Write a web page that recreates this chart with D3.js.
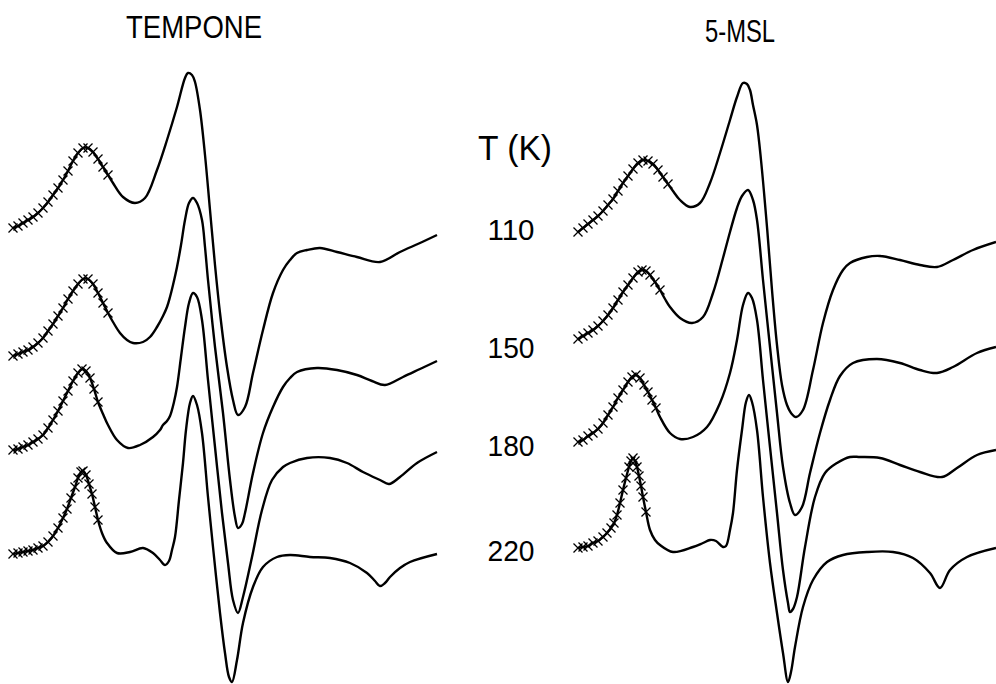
<!DOCTYPE html>
<html>
<head>
<meta charset="utf-8">
<script src="https://cdn.jsdelivr.net/npm/d3@7"></script>
<style>
  html, body { margin: 0; padding: 0; background: #fff; }
  svg { display: block; font-family: "Liberation Sans", Arial, sans-serif; }
</style>
</head>
<body>
<script>
// EPR spectra, [field, signal] pairs (arbitrary units).
// Low-field points up to fitEnd carry the simulation markers (x).
const temps = ['110', '150', '180', '220'];

const tempone110 = [[0,0],[5,2],[10,5],[15,8],[20,11],[25,15],[30,20],[35,26],[40,33],[45,40],[50,48],[55,57],[60,67],[65,75],[70,80],[75,80],[80,76],[85,69],[90,61],[95,53],[100,45],[110,31],[122,25],[132,30],[144,58],[154,88],[164,121],[172,150],[175,155],[179,153],[182,146],[187,118],[192,73],[197,18],[202,-37],[207,-85],[214,-139],[220,-172],[225,-187],[232,-179],[240,-145],[250,-102],[260,-65],[270,-42],[277,-32],[284,-25],[294,-22],[307,-20],[324,-24],[344,-29],[367,-34],[387,-24],[407,-15],[424,-7]];
const tempone150 = [[0,0],[5,2],[10,4],[15,6],[20,9],[25,13],[30,18],[35,25],[40,32],[45,40],[50,48],[55,57],[60,65],[65,72],[70,77],[75,77],[80,72],[85,63],[90,53],[95,43],[100,34],[107,23],[114,16],[120,13],[130,14],[137,19],[144,29],[150,40],[154,49],[157,59],[160,71],[164,89],[168,111],[172,136],[176,153],[180,158],[184,153],[189,136],[192,109],[195,76],[202,9],[210,-57],[217,-124],[222,-161],[225,-172],[229,-168],[232,-157],[240,-117],[250,-77],[260,-51],[270,-31],[277,-22],[284,-16],[304,-12],[324,-14],[344,-19],[359,-25],[372,-29],[390,-21],[407,-13],[424,-5]];
const tempone180 = [[0,0],[5,1],[10,3],[15,5],[20,8],[25,11],[30,15],[35,22],[40,30],[45,39],[50,49],[55,59],[60,69],[65,77],[69,81],[73,79],[77,72],[81,61],[85,48],[90,36],[95,25],[104,10],[115,2],[127,5],[140,13],[147,20],[150,25],[154,29],[157,34],[161,48],[164,63],[168,93],[172,123],[176,147],[180,157],[184,153],[189,130],[195,70],[202,3],[209,-63],[215,-113],[220,-150],[225,-163],[230,-147],[239,-107],[249,-60],[259,-30],[270,-17],[277,-13],[294,-8],[317,-8],[334,-13],[350,-22],[367,-30],[376,-34],[387,-27],[404,-13],[424,-2]];
const tempone220 = [[0,0],[5,1],[10,2],[15,3],[20,4],[25,6],[30,8],[35,12],[40,18],[45,26],[50,36],[54,45],[58,56],[62,67],[65,76],[68,82],[70,83],[73,79],[76,70],[79,60],[82,47],[85,34],[89,21],[94,11],[104,1],[117,2],[130,6],[140,1],[147,-6],[152,-11],[156,-7],[159,4],[162,17],[166,54],[170,91],[173,124],[177,151],[180,158],[184,149],[189,121],[195,57],[200,7],[207,-59],[212,-99],[216,-123],[219,-128],[224,-106],[230,-69],[240,-33],[250,-13],[264,-3],[277,-1],[297,-3],[317,-4],[337,-9],[354,-19],[362,-27],[367,-32],[372,-29],[377,-23],[387,-14],[397,-8],[424,0]];

const msl110 = [[0,0],[5,4],[10,8],[15,12],[20,16],[25,21],[30,27],[35,33],[40,41],[45,49],[50,56],[55,63],[60,69],[65,72],[70,71],[75,68],[80,62],[85,55],[90,48],[95,41],[102,32],[112,25],[122,29],[132,49],[142,79],[152,112],[159,135],[165,149],[169,148],[172,142],[175,127],[179,107],[183,72],[189,5],[194,-58],[199,-113],[204,-153],[209,-173],[213,-181],[218,-185],[225,-178],[235,-138],[245,-91],[255,-58],[265,-38],[272,-31],[289,-25],[302,-24],[322,-28],[342,-33],[359,-35],[375,-28],[395,-18],[418,-10]];
const msl150 = [[0,0],[5,3],[10,6],[15,9],[20,13],[25,18],[30,24],[35,31],[40,39],[45,47],[50,54],[55,61],[60,67],[64,69],[68,68],[72,64],[77,57],[82,49],[87,40],[92,32],[102,21],[114,16],[125,22],[135,46],[145,81],[152,107],[159,131],[164,143],[170,149],[175,139],[179,119],[185,59],[192,-8],[199,-74],[205,-128],[212,-164],[217,-176],[224,-168],[232,-134],[242,-94],[252,-61],[262,-37],[275,-24],[299,-20],[322,-24],[342,-31],[359,-34],[375,-28],[399,-14],[418,-8]];
const msl180 = [[0,0],[5,2],[10,6],[15,9],[20,13],[25,19],[30,27],[35,35],[40,44],[45,52],[50,60],[54,65],[58,67],[62,64],[66,57],[70,50],[74,42],[78,34],[82,25],[92,9],[102,3],[115,5],[129,15],[142,39],[152,69],[159,102],[165,137],[170,149],[174,144],[179,122],[185,62],[192,-5],[199,-71],[205,-128],[210,-161],[212,-170],[215,-167],[219,-155],[227,-105],[237,-55],[247,-31],[259,-21],[272,-15],[282,-15],[302,-16],[322,-23],[342,-30],[364,-35],[379,-26],[399,-13],[418,-8]];
const msl220 = [[0,0],[5,1],[10,2],[15,5],[20,7],[25,11],[29,15],[33,20],[36,25],[39,33],[42,45],[45,58],[48,70],[51,81],[53,87],[55,90],[57,87],[59,81],[61,72],[63,62],[65,51],[68,36],[72,18],[77,8],[82,3],[95,-4],[115,1],[125,5],[132,8],[138,7],[145,1],[148,2],[152,18],[155,35],[159,78],[164,118],[168,146],[171,153],[174,146],[179,118],[185,51],[192,-15],[199,-65],[205,-105],[210,-134],[213,-124],[217,-99],[225,-59],[235,-32],[249,-14],[265,-7],[289,-4],[315,-4],[335,-10],[352,-25],[362,-40],[372,-22],[389,-9],[418,0]];

// vertical stacking offsets (signal units) and end of the fitted region
const temponeOffsets = [0, -128, -222, -326];
const mslOffsets = [-4, -111, -214, -320];
const temponeFitEnd = [95, 95, 85, 85];
const mslFitEnd = [92, 85, 79, 68];

const width = 996, height = 684;

const svg = d3.select('body').append('svg')
  .attr('width', width)
  .attr('height', height);

svg.append('rect').attr('width', width).attr('height', height).attr('fill', '#fff');

const y = d3.scaleLinear().domain([0, -456]).range([228, 684]);

const panels = [
  { title: 'TEMPONE', titleX: 194, titleY: 38, titleW: 136,
    x: d3.scaleLinear().domain([0, 425]).range([13, 438]),
    traces: [tempone110, tempone150, tempone180, tempone220],
    offsets: temponeOffsets, fitEnd: temponeFitEnd },
  { title: '5-MSL', titleX: 740, titleY: 42, titleW: 70,
    x: d3.scaleLinear().domain([0, 418]).range([578, 996]),
    traces: [msl110, msl150, msl180, msl220],
    offsets: mslOffsets, fitEnd: mslFitEnd }
];

panels.forEach((p) => {
  const g = svg.append('g');

  g.append('text')
    .attr('x', p.titleX)
    .attr('y', p.titleY)
    .attr('text-anchor', 'middle')
    .attr('font-size', '31px')
    .attr('textLength', p.titleW)
    .attr('lengthAdjust', 'spacingAndGlyphs')
    .text(p.title);

  p.traces.forEach((trace, i) => {
    const off = p.offsets[i];
    const line = d3.line()
      .x((d) => p.x(d[0]))
      .y((d) => y(d[1] + off))
      .curve(d3.curveCatmullRom.alpha(0.5));

    g.append('path')
      .datum(trace)
      .attr('d', line)
      .attr('fill', 'none')
      .attr('stroke', '#000')
      .attr('stroke-width', 2.4)
      .attr('stroke-linejoin', 'round');

    // simulation points drawn as x markers
    g.append('g')
      .selectAll('path')
      .data(trace.filter((d) => d[0] <= p.fitEnd[i]))
      .join('path')
      .attr('transform', (d) => `translate(${p.x(d[0])},${y(d[1] + off)})`)
      .attr('d', 'M-4.5,-4.5L4.5,4.5M-4.5,4.5L4.5,-4.5')
      .attr('stroke', '#000')
      .attr('stroke-width', 1.3)
      .attr('fill', 'none');
  });
});

// temperature column between the panels
svg.append('text')
  .attr('x', 515)
  .attr('y', 160)
  .attr('text-anchor', 'middle')
  .attr('font-size', '35px')
  .attr('textLength', 74)
  .attr('lengthAdjust', 'spacingAndGlyphs')
  .text('T (K)');

svg.append('g')
  .selectAll('text')
  .data(temps)
  .join('text')
  .attr('x', 511)
  .attr('y', (d, i) => y((temponeOffsets[i] + mslOffsets[i]) / 2) + 10)
  .attr('text-anchor', 'middle')
  .attr('font-size', '29px')
  .attr('textLength', 47)
  .attr('lengthAdjust', 'spacingAndGlyphs')
  .text((d) => d);
</script>
</body>
</html>
